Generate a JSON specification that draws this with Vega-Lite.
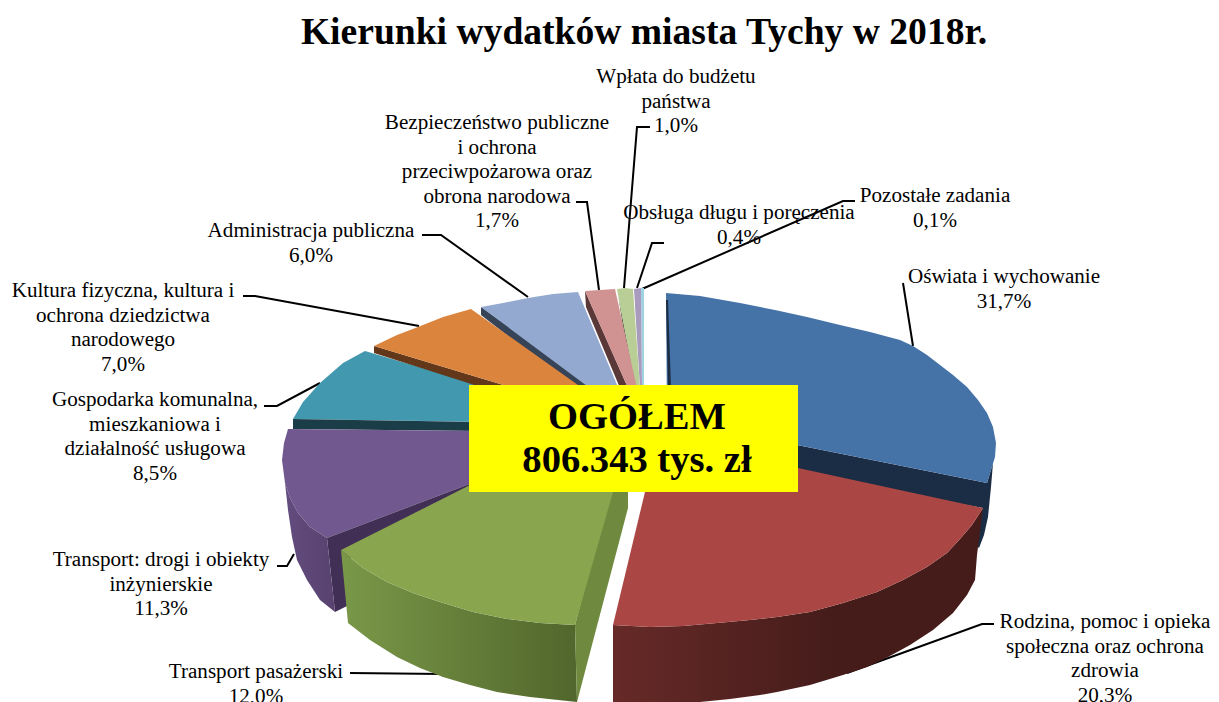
{"$schema":"https://vega.github.io/schema/vega-lite/v6.json","width":1219,"height":702,"autosize":{"type":"none"},"padding":0,"background":"white","view":{"stroke":null},
"resolve":{"scale":{"color":"independent"}},
"datasets":{
"labels":[
{"name":"Wpłata do budżetu państwa","label":"Wpłata do budżetu\npaństwa\n1,0%","share":1.0,"x":676,"y":66},
{"name":"Bezpieczeństwo publiczne","label":"Bezpieczeństwo publiczne\ni ochrona\nprzeciwpożarowa oraz\nobrona narodowa\n1,7%","share":1.7,"x":497,"y":112},
{"name":"Obsługa długu i poręczenia","label":"Obsługa długu i poręczenia\n0,4%","share":0.4,"x":739,"y":202},
{"name":"Pozostałe zadania","label":"Pozostałe zadania\n0,1%","share":0.1,"x":935,"y":185},
{"name":"Oświata i wychowanie","label":"Oświata i wychowanie\n31,7%","share":31.7,"x":1004,"y":266},
{"name":"Administracja publiczna","label":"Administracja publiczna\n6,0%","share":6.0,"x":311,"y":220},
{"name":"Kultura fizyczna","label":"Kultura fizyczna, kultura i\nochrona dziedzictwa\nnarodowego\n7,0%","share":7.0,"x":123,"y":280},
{"name":"Gospodarka komunalna","label":"Gospodarka komunalna,\nmieszkaniowa i\ndziałalność usługowa\n8,5%","share":8.5,"x":155,"y":389},
{"name":"Transport: drogi","label":"Transport: drogi i obiekty\ninżynierskie\n11,3%","share":11.3,"x":161,"y":549},
{"name":"Transport pasażerski","label":"Transport pasażerski\n12,0%","share":12.0,"x":256,"y":661},
{"name":"Rodzina","label":"Rodzina, pomoc i opieka\nspołeczna oraz ochrona\nzdrowia\n20,3%","share":20.3,"x":1105,"y":611}
],
"leaders":[
{"s":"a","i":0,"x":903,"y":283},{"s":"a","i":1,"x":913,"y":346},
{"s":"b","i":0,"x":994,"y":624},{"s":"b","i":1,"x":982,"y":624},{"s":"b","i":2,"x":847,"y":673},
{"s":"c","i":0,"x":350,"y":673},{"s":"c","i":1,"x":443,"y":674},
{"s":"d","i":0,"x":277,"y":566},{"s":"d","i":1,"x":287,"y":566},{"s":"d","i":2,"x":294,"y":554},
{"s":"e","i":0,"x":264,"y":406},{"s":"e","i":1,"x":277,"y":406},{"s":"e","i":2,"x":320,"y":383},
{"s":"f","i":0,"x":243,"y":296},{"s":"f","i":1,"x":255,"y":296},{"s":"f","i":2,"x":419,"y":326},
{"s":"g","i":0,"x":422,"y":235},{"s":"g","i":1,"x":441,"y":235},{"s":"g","i":2,"x":528,"y":297},
{"s":"h","i":0,"x":576,"y":202},{"s":"h","i":1,"x":587,"y":202},{"s":"h","i":2,"x":599,"y":290},
{"s":"j","i":0,"x":650,"y":127},{"s":"j","i":1,"x":637,"y":127},{"s":"j","i":2,"x":624,"y":288},
{"s":"k","i":0,"x":664,"y":243},{"s":"k","i":1,"x":652,"y":243},{"s":"k","i":2,"x":637,"y":288},
{"s":"l","i":0,"x":855,"y":201},{"s":"l","i":1,"x":843,"y":201},{"s":"l","i":2,"x":642,"y":289}
],
"back":[
{"s":"01navy","i":0,"x":667,"y":419},{"s":"01navy","i":1,"x":987,"y":483},{"s":"01navy","i":2,"x":993,"y":463},{"s":"01navy","i":3,"x":991,"y":487},{"s":"01navy","i":4,"x":988,"y":517},{"s":"01navy","i":5,"x":984,"y":535},{"s":"01navy","i":6,"x":979,"y":548},{"s":"01navy","i":7,"x":970,"y":540},{"s":"01navy","i":8,"x":983,"y":508},{"s":"01navy","i":9,"x":667,"y":450},
{"s":"02blue","i":0,"x":666,"y":293},{"s":"02blue","i":1,"x":700,"y":296},{"s":"02blue","i":2,"x":740,"y":303},{"s":"02blue","i":3,"x":775,"y":310},{"s":"02blue","i":4,"x":807,"y":317},{"s":"02blue","i":5,"x":840,"y":325},{"s":"02blue","i":6,"x":870,"y":332},{"s":"02blue","i":7,"x":900,"y":340},{"s":"02blue","i":8,"x":913,"y":346},{"s":"02blue","i":9,"x":927,"y":355},{"s":"02blue","i":10,"x":940,"y":365},{"s":"02blue","i":11,"x":953,"y":375},{"s":"02blue","i":12,"x":967,"y":387},{"s":"02blue","i":13,"x":978,"y":400},{"s":"02blue","i":14,"x":987,"y":413},{"s":"02blue","i":15,"x":993,"y":427},{"s":"02blue","i":16,"x":996,"y":443},{"s":"02blue","i":17,"x":995,"y":457},{"s":"02blue","i":18,"x":987,"y":483},{"s":"02blue","i":19,"x":667,"y":419},
{"s":"03edge","i":0,"x":666,"y":300},{"s":"03edge","i":1,"x":668,"y":300},{"s":"03edge","i":2,"x":671,"y":388},{"s":"03edge","i":3,"x":668,"y":388},
{"s":"04tiny","i":0,"x":641,"y":288},{"s":"04tiny","i":1,"x":644,"y":288},{"s":"04tiny","i":2,"x":644,"y":388},{"s":"04tiny","i":3,"x":642,"y":388},
{"s":"05lilac","i":0,"x":634,"y":289},{"s":"05lilac","i":1,"x":641,"y":288},{"s":"05lilac","i":2,"x":642,"y":388},{"s":"05lilac","i":3,"x":640,"y":388},
{"s":"06oliveD","i":0,"x":617,"y":289},{"s":"06oliveD","i":1,"x":618,"y":294},{"s":"06oliveD","i":2,"x":632,"y":388},{"s":"06oliveD","i":3,"x":636,"y":388},
{"s":"07olive","i":0,"x":617,"y":289},{"s":"07olive","i":1,"x":625,"y":288},{"s":"07olive","i":2,"x":633,"y":289},{"s":"07olive","i":3,"x":640,"y":388},{"s":"07olive","i":4,"x":636,"y":388},
{"s":"08pinkD","i":0,"x":585,"y":291},{"s":"08pinkD","i":1,"x":586,"y":307},{"s":"08pinkD","i":2,"x":620,"y":388},{"s":"08pinkD","i":3,"x":628,"y":388},
{"s":"09pink","i":0,"x":585,"y":291},{"s":"09pink","i":1,"x":600,"y":290},{"s":"09pink","i":2,"x":615,"y":289},{"s":"09pink","i":3,"x":637,"y":388},{"s":"09pink","i":4,"x":628,"y":388},
{"s":"10steelD","i":0,"x":481,"y":307},{"s":"10steelD","i":1,"x":481,"y":315},{"s":"10steelD","i":2,"x":575,"y":388},{"s":"10steelD","i":3,"x":600,"y":392},
{"s":"11steel","i":0,"x":481,"y":307},{"s":"11steel","i":1,"x":503,"y":303},{"s":"11steel","i":2,"x":528,"y":298},{"s":"11steel","i":3,"x":553,"y":294},{"s":"11steel","i":4,"x":578,"y":292},{"s":"11steel","i":5,"x":620,"y":392},{"s":"11steel","i":6,"x":595,"y":392},
{"s":"12tealTop","i":0,"x":293,"y":419},{"s":"12tealTop","i":1,"x":303,"y":402},{"s":"12tealTop","i":2,"x":320,"y":383},{"s":"12tealTop","i":3,"x":343,"y":363},{"s":"12tealTop","i":4,"x":365,"y":351},{"s":"12tealTop","i":5,"x":490,"y":388},{"s":"12tealTop","i":6,"x":490,"y":422},
{"s":"13orangeD","i":0,"x":374,"y":346},{"s":"13orangeD","i":1,"x":374,"y":353},{"s":"13orangeD","i":2,"x":490,"y":390},{"s":"13orangeD","i":3,"x":520,"y":390},
{"s":"14orange","i":0,"x":374,"y":346},{"s":"14orange","i":1,"x":397,"y":335},{"s":"14orange","i":2,"x":418,"y":327},{"s":"14orange","i":3,"x":443,"y":317},{"s":"14orange","i":4,"x":471,"y":309},{"s":"14orange","i":5,"x":585,"y":390},{"s":"14orange","i":6,"x":520,"y":390},
{"s":"15tealD","i":0,"x":293,"y":419},{"s":"15tealD","i":1,"x":293,"y":429},{"s":"15tealD","i":2,"x":480,"y":431},{"s":"15tealD","i":3,"x":480,"y":422},
{"s":"16purple","i":0,"x":288,"y":429},{"s":"16purple","i":1,"x":480,"y":431},{"s":"16purple","i":2,"x":480,"y":480},{"s":"16purple","i":3,"x":327,"y":538},{"s":"16purple","i":4,"x":310,"y":527},{"s":"16purple","i":5,"x":298,"y":513},{"s":"16purple","i":6,"x":290,"y":498},{"s":"16purple","i":7,"x":285,"y":483},{"s":"16purple","i":8,"x":282,"y":460},{"s":"16purple","i":9,"x":284,"y":443},
{"s":"17purpleD","i":0,"x":327,"y":538},{"s":"17purpleD","i":1,"x":335,"y":612},{"s":"17purpleD","i":2,"x":347,"y":606},{"s":"17purpleD","i":3,"x":347,"y":560},{"s":"17purpleD","i":4,"x":490,"y":492},{"s":"17purpleD","i":5,"x":480,"y":480}
],
"purpleSide":[
{"i":0,"x":285,"y":483},{"i":1,"x":288,"y":510},{"i":2,"x":292,"y":537},{"i":3,"x":297,"y":560},{"i":4,"x":307,"y":580},{"i":5,"x":320,"y":600},{"i":6,"x":335,"y":612},{"i":7,"x":327,"y":538},{"i":8,"x":310,"y":527},{"i":9,"x":298,"y":513},{"i":10,"x":290,"y":498}
],
"greenSide":[
{"i":0,"x":341,"y":550},{"i":1,"x":348,"y":623},{"i":2,"x":370,"y":640},{"i":3,"x":397,"y":657},{"i":4,"x":420,"y":668},{"i":5,"x":443,"y":677},{"i":6,"x":470,"y":685},{"i":7,"x":497,"y":692},{"i":8,"x":530,"y":697},{"i":9,"x":577,"y":702},{"i":10,"x":575,"y":625},{"i":11,"x":540,"y":623},{"i":12,"x":507,"y":619},{"i":13,"x":473,"y":612},{"i":14,"x":440,"y":602},{"i":15,"x":413,"y":593},{"i":16,"x":387,"y":582},{"i":17,"x":363,"y":568}
],
"redSide":[
{"i":0,"x":613,"y":625},{"i":1,"x":613,"y":702},{"i":2,"x":700,"y":702},{"i":3,"x":730,"y":699},{"i":4,"x":760,"y":695},{"i":5,"x":777,"y":692},{"i":6,"x":810,"y":685},{"i":7,"x":843,"y":675},{"i":8,"x":867,"y":667},{"i":9,"x":888,"y":657},{"i":10,"x":910,"y":645},{"i":11,"x":933,"y":630},{"i":12,"x":953,"y":613},{"i":13,"x":967,"y":595},{"i":14,"x":975,"y":580},{"i":15,"x":977,"y":555},{"i":16,"x":983,"y":508},{"i":17,"x":972,"y":525},{"i":18,"x":960,"y":539},{"i":19,"x":947,"y":553},{"i":20,"x":927,"y":567},{"i":21,"x":903,"y":580},{"i":22,"x":877,"y":592},{"i":23,"x":843,"y":603},{"i":24,"x":810,"y":612},{"i":25,"x":777,"y":617},{"i":26,"x":750,"y":620},{"i":27,"x":717,"y":623},{"i":28,"x":683,"y":626},{"i":29,"x":650,"y":627}
],
"front":[
{"s":"20greenCut","i":0,"x":575,"y":625},{"s":"20greenCut","i":1,"x":577,"y":702},{"s":"20greenCut","i":2,"x":628,"y":508},{"s":"20greenCut","i":3,"x":628,"y":480},{"s":"20greenCut","i":4,"x":613,"y":480},
{"s":"21green","i":0,"x":341,"y":550},{"s":"21green","i":1,"x":480,"y":480},{"s":"21green","i":2,"x":630,"y":430},{"s":"21green","i":3,"x":613,"y":492},{"s":"21green","i":4,"x":575,"y":625},{"s":"21green","i":5,"x":540,"y":623},{"s":"21green","i":6,"x":507,"y":619},{"s":"21green","i":7,"x":473,"y":612},{"s":"21green","i":8,"x":440,"y":602},{"s":"21green","i":9,"x":413,"y":593},{"s":"21green","i":10,"x":387,"y":582},{"s":"21green","i":11,"x":363,"y":568},
{"s":"22red","i":0,"x":659,"y":438},{"s":"22red","i":1,"x":798,"y":468},{"s":"22red","i":2,"x":983,"y":508},{"s":"22red","i":3,"x":972,"y":525},{"s":"22red","i":4,"x":960,"y":539},{"s":"22red","i":5,"x":947,"y":553},{"s":"22red","i":6,"x":927,"y":567},{"s":"22red","i":7,"x":903,"y":580},{"s":"22red","i":8,"x":877,"y":592},{"s":"22red","i":9,"x":843,"y":603},{"s":"22red","i":10,"x":810,"y":612},{"s":"22red","i":11,"x":777,"y":617},{"s":"22red","i":12,"x":750,"y":620},{"s":"22red","i":13,"x":717,"y":623},{"s":"22red","i":14,"x":683,"y":626},{"s":"22red","i":15,"x":650,"y":627},{"s":"22red","i":16,"x":613,"y":625},{"s":"22red","i":17,"x":645,"y":492}
]
},
"layer":[
{"data":{"name":"leaders"},"mark":{"type":"line","stroke":"black","strokeWidth":2},"encoding":{"x":{"field":"x","type":"quantitative","scale":{"domain":[0,1219],"nice":false},"axis":null},"y":{"field":"y","type":"quantitative","scale":{"domain":[702,0],"nice":false},"axis":null},"detail":{"field":"s"},"order":{"field":"i"}}},
{"data":{"name":"labels"},"mark":{"type":"text","font":"Liberation Serif","fontSize":21.1,"lineBreak":"\n","lineHeight":24.6,"align":"center","baseline":"top","color":"black"},"encoding":{"x":{"field":"x","type":"quantitative"},"y":{"field":"y","type":"quantitative"},"text":{"field":"label"}}},
{"data":{"name":"back"},"mark":{"type":"line","filled":true,"strokeWidth":0},"encoding":{"x":{"field":"x","type":"quantitative"},"y":{"field":"y","type":"quantitative"},"order":{"field":"i"},"color":{"field":"s","type":"nominal","legend":null,"scale":{"domain":["01navy","02blue","03edge","04tiny","05lilac","06oliveD","07olive","08pinkD","09pink","10steelD","11steel","12tealTop","13orangeD","14orange","15tealD","16purple","17purpleD"],"range":["#1b2d45","#4572a7","#1b2d45","#9fd3e2","#a99bbd","#55613f","#b9cd96","#5a3838","#d19392","#374356","#93a9cf","#4198af","#63381a","#db843d","#1b3d47","#71588f","#422f55"]}}}},
{"data":{"name":"purpleSide"},"mark":{"type":"line","fill":{"gradient":"linear","x1":0,"y1":0,"x2":1,"y2":0,"stops":[{"offset":0,"color":"#634c7e"},{"offset":1,"color":"#58426f"}]},"stroke":null},"encoding":{"x":{"field":"x","type":"quantitative"},"y":{"field":"y","type":"quantitative"},"order":{"field":"i"}}},
{"data":{"name":"greenSide"},"mark":{"type":"line","fill":{"gradient":"linear","x1":0,"y1":0,"x2":1,"y2":0,"stops":[{"offset":0,"color":"#7a9848"},{"offset":1,"color":"#51662c"}]},"stroke":null},"encoding":{"x":{"field":"x","type":"quantitative"},"y":{"field":"y","type":"quantitative"},"order":{"field":"i"}}},
{"data":{"name":"redSide"},"mark":{"type":"line","fill":{"gradient":"linear","x1":0,"y1":0,"x2":1,"y2":0,"stops":[{"offset":0,"color":"#662a28"},{"offset":0.6,"color":"#451c1a"},{"offset":1,"color":"#451c1a"}]},"stroke":null},"encoding":{"x":{"field":"x","type":"quantitative"},"y":{"field":"y","type":"quantitative"},"order":{"field":"i"}}},
{"data":{"name":"front"},"mark":{"type":"line","filled":true,"strokeWidth":0},"encoding":{"x":{"field":"x","type":"quantitative"},"y":{"field":"y","type":"quantitative"},"order":{"field":"i"},"color":{"field":"s","type":"nominal","legend":null,"scale":{"domain":["20greenCut","21green","22red"],"range":["#6f8a3f","#89a54e","#aa4643"]}}}},
{"data":{"values":[{"x":469,"x2":798,"y":385,"y2":492}]},"mark":{"type":"rect","color":"#ffff00"},"encoding":{"x":{"field":"x","type":"quantitative"},"x2":{"field":"x2"},"y":{"field":"y","type":"quantitative"},"y2":{"field":"y2"}}},
{"data":{"values":[{"x":637,"y":399,"t":"OGÓŁEM\n806.343 tys. zł"}]},"mark":{"type":"text","font":"Liberation Serif","fontWeight":"bold","fontSize":38.6,"lineBreak":"\n","lineHeight":43,"align":"center","baseline":"top","color":"black"},"encoding":{"x":{"field":"x","type":"quantitative"},"y":{"field":"y","type":"quantitative"},"text":{"field":"t"}}},
{"data":{"values":[{"x":644,"y":33,"t":"Kierunki wydatków miasta Tychy w 2018r."}]},"mark":{"type":"text","font":"Liberation Serif","fontWeight":"bold","fontSize":37.6,"align":"center","baseline":"middle","color":"black"},"encoding":{"x":{"field":"x","type":"quantitative"},"y":{"field":"y","type":"quantitative"},"text":{"field":"t"}}}
]}
